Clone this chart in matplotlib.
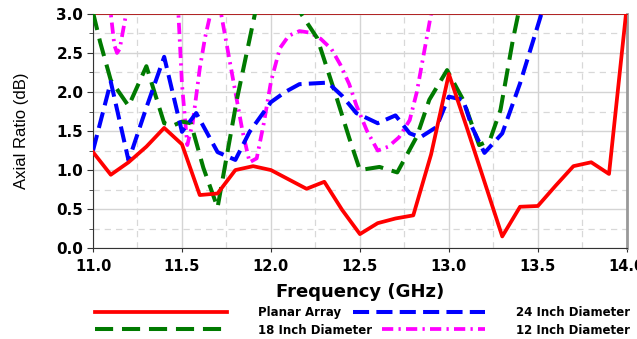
import numpy as np
import matplotlib
matplotlib.use('Agg')
import matplotlib.pyplot as plt
from matplotlib.ticker import MultipleLocator

plt.rcParams['font.family'] = ['Liberation Sans', 'DejaVu Sans']

# Planar Array
f_planar = [11.0, 11.1, 11.2, 11.3, 11.4, 11.5, 11.6, 11.7, 11.8, 11.9, 12.0,
            12.1, 12.2, 12.3, 12.4, 12.5, 12.6, 12.7, 12.8, 12.9, 13.0,
            13.1, 13.2, 13.3, 13.4, 13.5, 13.6, 13.7, 13.8, 13.9, 14.0]
ar_planar = [1.23, 0.94, 1.1, 1.3, 1.54, 1.33, 0.68, 0.7, 1.0, 1.05, 1.0,
             0.88, 0.76, 0.85, 0.49, 0.18, 0.32, 0.38, 0.42, 1.2, 2.23,
             1.55, 0.85, 0.15, 0.53, 0.54, 0.8, 1.05, 1.1, 0.95, 3.1]

# 24 Inch Diameter
f_24 = [11.0, 11.1, 11.2, 11.3, 11.4, 11.5, 11.58, 11.7, 11.8, 11.88, 12.0,
        12.08, 12.16, 12.32, 12.4, 12.48, 12.6, 12.7, 12.78, 12.84, 12.93,
        13.0, 13.08, 13.13, 13.2, 13.3, 13.4, 13.52, 13.55]
ar_24 = [1.25, 2.13, 1.12, 1.8, 2.45, 1.49, 1.73, 1.23, 1.13, 1.49, 1.87,
         2.0, 2.1, 2.12, 1.95, 1.73, 1.6, 1.7, 1.47, 1.42, 1.55,
         1.94, 1.9, 1.55, 1.22, 1.47, 2.11, 3.0, 3.3]

# 18 Inch Diameter
f_18 = [11.0, 11.04, 11.1, 11.2, 11.3, 11.4, 11.45, 11.5, 11.55, 11.62, 11.7,
        11.81, 11.91, 11.95, 12.1, 12.17, 12.26, 12.37, 12.44, 12.5, 12.61,
        12.71, 12.82, 12.89, 12.99, 13.08, 13.17, 13.23, 13.29, 13.36, 13.39, 13.42]
ar_18 = [3.02, 2.64, 2.15, 1.82, 2.33, 1.6, 1.57, 1.62, 1.6, 1.03, 0.52,
         1.92, 3.0, 3.5, 3.5, 3.0, 2.69, 1.92, 1.41, 1.0, 1.04,
         0.97, 1.43, 1.9, 2.28, 1.9, 1.32, 1.38, 1.77, 2.67, 3.0, 3.3]

# 12 Inch Diameter
f_12 = [11.06, 11.1, 11.12, 11.135, 11.15, 11.17, 11.19, 11.22, 11.3, 11.45,
        11.48, 11.5, 11.53, 11.56, 11.6, 11.63, 11.66, 11.69, 11.72, 11.76,
        11.8, 11.84, 11.88, 11.92, 11.96, 12.0, 12.05, 12.1, 12.16, 12.22,
        12.28, 12.34, 12.39, 12.44, 12.48, 12.54, 12.6, 12.66, 12.72, 12.78,
        12.82, 12.86, 12.9, 12.93]
ar_12 = [3.4, 3.0, 2.6, 2.5, 2.55, 2.8, 3.05, 3.5, 4.0, 3.5,
         3.0, 2.1, 1.32, 1.6, 2.3, 2.7, 3.0, 3.25, 3.0, 2.5,
         2.0, 1.5, 1.1, 1.15, 1.6, 2.13, 2.56, 2.72, 2.78, 2.76,
         2.68, 2.55, 2.35, 2.1, 1.83, 1.5, 1.25, 1.3, 1.42, 1.64,
         2.0, 2.5, 3.0, 3.4]

bold_font = {'family': 'DejaVu Sans', 'weight': 'bold'}

fig = plt.figure(figsize=(6.37, 3.39), dpi=100)
ax = fig.add_axes([0.146, 0.268, 0.838, 0.691])

l_pl, = ax.plot(f_planar, ar_planar, color='#ff0000', lw=2.7, ls='-', label='Planar Array', zorder=5)
l_18, = ax.plot(f_18, ar_18, color='#007a00', lw=2.9, ls=(0, (4.5, 2.2)), label='18 Inch Diameter', zorder=3)
l_24, = ax.plot(f_24, ar_24, color='#0000ff', lw=2.9, ls=(0, (4.0, 1.8)), label='24 Inch Diameter', zorder=4)
l_12, = ax.plot(f_12, ar_12, color='#ff00ff', lw=2.7, ls=(0, (3.0, 1.4, 0.6, 1.4)), label='12 Inch Diameter', zorder=2)

ax.set_xlim(11.0, 14.0)
ax.set_ylim(0.0, 3.0)
xt = np.arange(11.0, 14.01, 0.5)
ax.set_xticks(xt)
ax.set_xticklabels(['%.1f' % v for v in xt], fontdict=bold_font, fontsize=10.5)
yt = np.arange(0.0, 3.01, 0.5)
ax.set_yticks(yt)
ax.set_yticklabels(['%.1f' % v for v in yt], fontdict=bold_font, fontsize=11)
ax.xaxis.set_minor_locator(MultipleLocator(0.25))
ax.yaxis.set_minor_locator(MultipleLocator(0.25))

ax.grid(which='major', color='#d4d4d4', lw=1.0, ls='-')
ax.grid(which='minor', color='#d8d8d8', lw=0.9, ls=(0, (5, 4)))
ax.set_axisbelow(True)

ax.tick_params(axis='y', which='major', direction='out', length=4, pad=3, color='#333333')
ax.tick_params(axis='y', which='minor', direction='out', length=3, color='#333333')
ax.tick_params(axis='x', which='major', direction='out', length=3, pad=5, color='#333333')
ax.tick_params(axis='x', which='minor', length=0)

ax.spines['left'].set_color('#333333')
ax.spines['bottom'].set_color('#333333')
ax.spines['right'].set_color('#999999')
ax.spines['right'].set_linewidth(2.0)
ax.spines['top'].set_color('#b02020')
ax.spines['top'].set_linewidth(0.7)

ax.set_xlabel('Frequency (GHz)', fontdict=bold_font, fontsize=13, labelpad=6)
ax.set_ylabel('Axial Ratio (dB)', fontsize=12)
ax.yaxis.set_label_coords(-0.12, 0.5)

# legend: one entry per box so each handle sits where the original puts it
leg_prop = {'family': 'DejaVu Sans', 'weight': 'bold', 'size': 8.5}
leg_spec = [(l_pl, 0.149, 0.0767, 11.2),
            (l_24, 0.554, 0.0767, 11.2),
            (l_18, 0.149, 0.0265, 11.2),
            (l_12, 0.600, 0.0265, 8.7)]
for h, x0, y0, hl in leg_spec:
    fig.legend([h], [h.get_label()], loc='center left', bbox_to_anchor=(x0, y0),
               frameon=False, handlelength=hl, handletextpad=2.6, borderpad=0,
               borderaxespad=0, prop=leg_prop)

fig.savefig('out.png', dpi=100)
